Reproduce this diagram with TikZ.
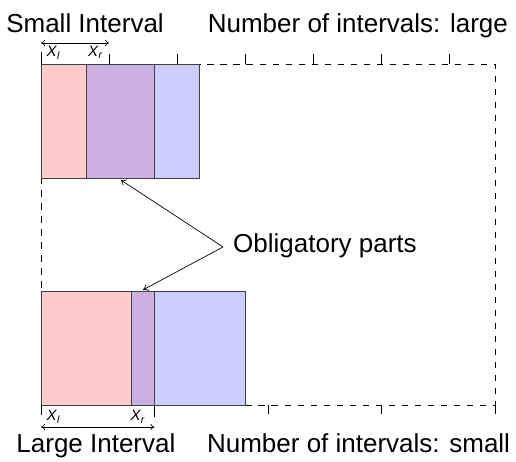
\documentclass[tikz,border=0pt]{standalone}
\usepackage{fontspec}
\setmainfont{Liberation Sans}
\usetikzlibrary{arrows.meta}
\definecolor{taskred}{RGB}{255,204,204}
\definecolor{taskblue}{RGB}{204,204,255}
\definecolor{taskpurple}{RGB}{204,176,226}
\begin{document}
\begin{tikzpicture}[x=22.7pt,y=22.7pt,
  frame/.style={line width=0.8pt,dash pattern=on 6.5pt off 6.5pt},
  tick/.style={line width=0.8pt},
  box/.style={draw=black!75,line width=0.9pt},
  span/.style={line width=0.7pt,{To[length=4pt,width=6pt]}-{To[length=4pt,width=6pt]}},
  big/.style={font=\fontsize{26}{30}\selectfont,inner sep=0pt},
  small/.style={font=\fontsize{15}{17}\selectfont,inner sep=0pt},
  pointer/.style={line width=0.7pt,-{To[length=5pt,width=7pt]}}]
\useasboundingbox (-1.806,-2.511) rectangle (20.925,17.841);
% frame
\draw[frame] (0,0) rectangle (20,15);
% top tasks
\fill[taskred] (0,10) rectangle (2,15);
\fill[taskpurple] (2,10) rectangle (5,15);
\fill[taskblue] (5,10) rectangle (7,15);
\draw[box] (0,10) rectangle (5,15);
\draw[box] (2,10) rectangle (7,15);
% bottom tasks
\fill[taskred] (0,0) rectangle (4,5);
\fill[taskpurple] (4,0) rectangle (5,5);
\fill[taskblue] (5,0) rectangle (9,5);
\draw[box] (0,0) rectangle (5,5);
\draw[box] (4,0) rectangle (9,5);
% top ticks
\draw[tick] (0,15) -- (0,15.55);
\foreach \i in {3,6,9,12,15,18} \draw[tick] (\i,15) -- (\i,15.45);
% bottom ticks
\draw[tick] (0,0) -- (0,-0.45);
\draw[tick] (5,0) -- (5,-0.52);
\foreach \i in {10,15,20} \draw[tick] (\i,0) -- (\i,-0.4);
% intervals
\coordinate (sl) at (0,15.95);
\coordinate (sr) at (3,15.95);
\draw[span] (sl) -- (sr);
\node[small] (xl1) at (0.55,15.52) {\textit{X}\textsubscript{\textit{l}}};
\node[small] (xr1) at (2.4,15.52) {\textit{X}\textsubscript{\textit{r}}};
\coordinate (ll) at (0,-0.97);
\coordinate (lr) at (5,-0.97);
\draw[span] (ll) -- (lr);
\node[small] (xl2) at (0.55,-0.52) {\textit{X}\textsubscript{\textit{l}}};
\node[small] (xr2) at (4.27,-0.52) {\textit{X}\textsubscript{\textit{r}}};
% labels
\node[big,anchor=base] (si) at (1.94,16.43) {Small Interval};
\node[big,anchor=base] (nl) at (13.96,16.43) {Number of intervals: large};
\node[big,anchor=base] (li) at (2.42,-2.11) {Large Interval};
\node[big,anchor=base] (ns) at (13.99,-2.11) {Number of intervals: small};
% obligatory parts
\coordinate (op) at (8.02,6.96);
\node[big,anchor=base west] (ob) at (8.46,6.72) {Obligatory parts};
\coordinate (t1) at (3.52,9.91);
\coordinate (t2) at (4.49,5.07);
\draw[pointer] (op) -- (t1);
\draw[pointer] (op) -- (t2);
\end{tikzpicture}
\end{document}
